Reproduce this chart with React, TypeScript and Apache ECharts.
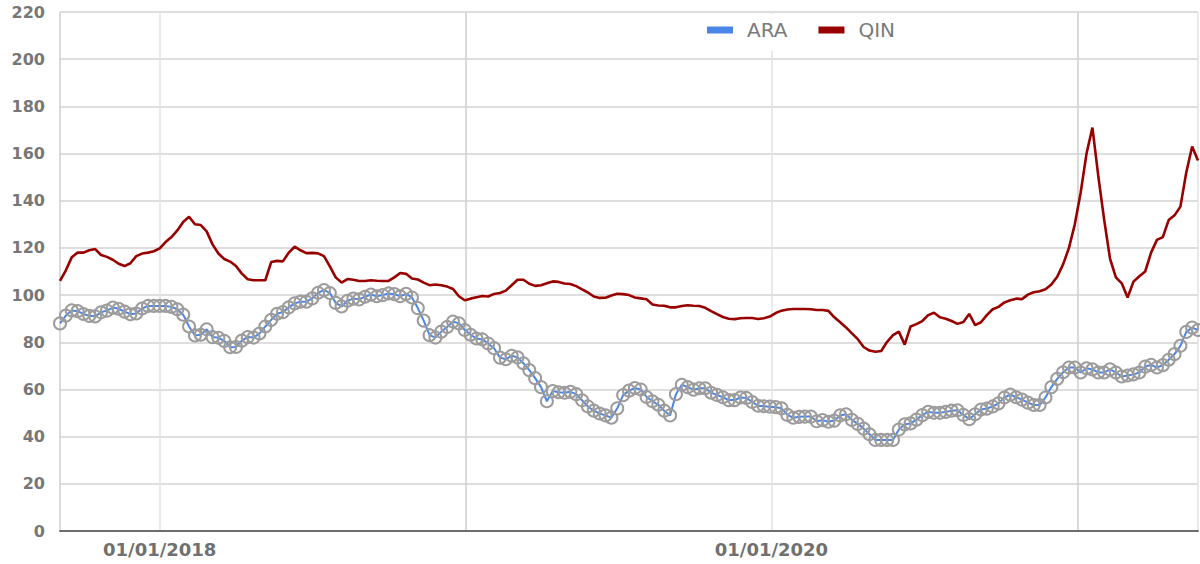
import React, { useEffect, useRef } from "react";
import * as echarts from "echarts";

// Weekly observations starting Monday 4 Sep 2017
const START_YEAR = 2017;
const START_MONTH = 8; // September (0-based)
const START_DAY = 4;
const SERIES_NAMES = ["ARA", "QIN"];
const Y_TICKS = [0, 20, 40, 60, 80, 100, 120, 140, 160, 180, 200, 220];

const ARA = [
  88, 91.3, 93.5, 93.2, 92, 91.2, 91, 92.7, 93.4, 94.7,
  94.2, 93, 91.9, 92.2, 94.3, 95.4, 95.4, 95.4, 95.4, 95,
  94, 91.7, 86.7, 82.9, 83.2, 85.5, 82.2, 81.9, 80.6, 77.9,
  78, 80.7, 82.2, 82, 83.7, 86.7, 89.5, 92.1, 92.8, 94.8,
  96.5, 97.2, 97.2, 98.6, 101, 102.1, 100.9, 96.7, 95.2, 97.6,
  98.5, 98.2, 99.3, 100.2, 99.5, 100, 100.7, 100.4, 99.5, 100.5,
  99, 94.5, 89.2, 83, 82, 84.5, 86.5, 88.8, 88, 85.2,
  83.2, 81.6, 81.2, 79.5, 77.5, 73.5, 72.8, 74.3, 73.6, 71.1,
  68.2, 64.8, 61, 55, 59.3, 58.8, 58.6, 59, 58, 55.4,
  52.8, 51, 49.8, 49, 48, 52, 57.6, 59.5, 60.6, 60,
  56.8, 55, 53.5, 51, 49, 58, 62, 61, 59.9, 60.5,
  60.5, 58.6, 57.7, 56.7, 55.5, 55.5, 56.6, 56.4, 54.7, 53.1,
  52.9, 52.7, 52.5, 52, 49.2, 48, 48.4, 48.5, 48.5, 46.5,
  47, 46.3, 46.8, 49, 49.5, 47.1, 45.4, 43.4, 41, 38.6,
  38.6, 38.6, 38.6, 43, 45.2, 45.6, 47.2, 49.1, 50.5, 50.1,
  50.1, 50.5, 51, 51.2, 49.2, 47.4, 49.5, 51.5, 51.9, 52.8,
  54.1, 56.6, 57.8, 56.7, 55.7, 54.4, 53.4, 53.4, 56.6, 61,
  64.5, 67.3, 69.3, 69.3, 67.2, 69, 68.5, 67.2, 67.2, 68.5,
  67.2, 65.5, 65.9, 66.4, 67.2, 69.7, 70.4, 69.3, 70.3, 72.6,
  75, 78.5, 84.4, 86.2, 85.2,
];

const QIN = [
  106, 110.5, 116, 118, 118, 119, 119.5, 117, 116.2, 115,
  113.3, 112.3, 113.5, 116.5, 117.6, 118, 118.6, 119.8, 122.5, 124.6,
  127.4, 131, 133.2, 130, 129.7, 127, 121.5, 117.6, 115.3, 114.2,
  112.3, 109.1, 106.7, 106.3, 106.3, 106.3, 114, 114.5, 114.3, 118,
  120.5, 119, 117.8, 117.9, 117.7, 116.5, 112.2, 107.5, 105.3, 106.8,
  106.5, 106, 106, 106.3, 106.1, 106, 106, 107.5, 109.4, 109,
  107, 106.6, 105.3, 104.2, 104.5, 104.2, 103.6, 102.6, 99.5, 97.8,
  98.5, 99.1, 99.6, 99.4, 100.5, 100.9, 101.9, 104.2, 106.5, 106.5,
  104.8, 103.9, 104.2, 105, 105.8, 105.6, 104.9, 104.7, 103.8, 102.4,
  101.1, 99.4, 98.8, 98.9, 99.8, 100.6, 100.4, 100, 99, 98.6,
  98.2, 96, 95.6, 95.5, 94.8, 94.8, 95.4, 95.7, 95.5, 95.4,
  94.6, 93.2, 91.9, 90.7, 90, 89.8, 90.2, 90.3, 90.3, 89.9,
  90.2, 90.9, 92.4, 93.4, 93.9, 94.1, 94.1, 94.1, 94, 93.7,
  93.7, 93.3, 90.6, 88.5, 86.3, 83.8, 81.3, 78, 76.5, 76,
  76.3, 80.2, 83, 84.5, 79, 86.7, 87.7, 89, 91.5, 92.5,
  90.6, 90, 89, 87.8, 88.6, 92, 87.3, 88.5, 91.5, 94,
  95, 96.9, 97.8, 98.5, 98.3, 100.2, 101.2, 101.6, 102.5, 104.5,
  107.8, 113, 120, 130, 143.5, 160, 171, 150.5, 132, 115.5,
  107.5, 105, 99, 105.7, 108, 110, 118, 123.4, 124.6, 131.8,
  133.8, 137.5, 152, 163, 157,
];

function weekDate(i: number): number {
  return new Date(START_YEAR, START_MONTH, START_DAY + 7 * i).getTime();
}

const DATES = ARA.map((_, i) => weekDate(i));

const LEGEND_ICON = "path://M0 0H26V7H0Z";

export default function App() {
  const ref = useRef<HTMLDivElement>(null);

  useEffect(() => {
    if (!ref.current) return;
    const chart = echarts.init(ref.current, undefined, { renderer: "svg" });
    const font = "'DejaVu Sans', 'Liberation Sans', Arial, sans-serif";
    chart.setOption({
      animation: false,
      backgroundColor: "#ffffff",
      grid: { left: 60, right: 2, top: 12, bottom: 33, containLabel: false },
      legend: {
        data: [
          { name: SERIES_NAMES[0], icon: LEGEND_ICON, itemStyle: { color: "#4a86e8", borderWidth: 0, opacity: 1 } },
          { name: SERIES_NAMES[1], icon: LEGEND_ICON, itemStyle: { color: "#990000", borderWidth: 0, opacity: 1 } },
        ],
        left: 697,
        top: 14,
        padding: [6, 10, 11, 10],
        backgroundColor: "#ffffff",
        icon: LEGEND_ICON,
        itemWidth: 26,
        itemHeight: 7,
        itemGap: 31,
        itemStyle: { borderWidth: 0 },
        textStyle: {
          color: "#7a7a7a",
          fontSize: 20,
          fontFamily: font,
          padding: [0, 0, 0, 9],
          width: 48,
        },
      },
      xAxis: {
        type: "time",
        min: DATES[0],
        max: DATES[DATES.length - 1],
        minInterval: 365 * 24 * 3600 * 1000,
        axisLine: { show: true, lineStyle: { color: "#6e6e6e", width: 2 } },
        axisTick: { show: false },
        splitLine: {
          show: true,
          lineStyle: { color: ["#cfcfcf", "#e3e3e3"], width: 1.5 },
        },
        axisLabel: {
          color: "#707070",
          fontSize: 18,
          fontWeight: "bold",
          fontFamily: font,
          margin: 9,
          formatter: (value: number) => {
            const d = new Date(value);
            if (d.getMonth() === 0 && d.getDate() === 1 && d.getFullYear() % 2 === 0) {
              return "01/01/" + d.getFullYear();
            }
            return "";
          },
        },
      },
      yAxis: {
        type: "value",
        min: Y_TICKS[0],
        max: Y_TICKS[Y_TICKS.length - 1],
        interval: Y_TICKS[1] - Y_TICKS[0],
        axisLine: { show: false },
        axisTick: { show: false },
        splitLine: { lineStyle: { color: "#d3d3d3", width: 1.5 } },
        axisLabel: {
          color: "#777777",
          fontSize: 16,
          fontWeight: "bold",
          fontFamily: font,
          margin: 15,
        },
      },
      series: [
        {
          name: SERIES_NAMES[0],
          type: "line",
          legendIcon: LEGEND_ICON,
          data: DATES.map((d, i) => [d, ARA[i]]),
          showSymbol: true,
          showAllSymbol: true,
          symbol: "circle",
          symbolSize: 12,
          itemStyle: {
            color: "rgba(255,255,255,0)",
            borderColor: "#9c9c9c",
            borderWidth: 2,
          },
          lineStyle: { color: "#4a86e8", width: 2 },
          z: 3,
        },
        {
          name: SERIES_NAMES[1],
          type: "line",
          legendIcon: LEGEND_ICON,
          data: DATES.map((d, i) => [d, QIN[i]]),
          showSymbol: false,
          symbol: "none",
          itemStyle: { color: "#990000" },
          lineStyle: { color: "#990000", width: 2.6 },
          z: 2,
        },
      ],
    });
    return () => chart.dispose();
  }, []);

  return (
    <div
      ref={ref}
      style={{ position: "fixed", left: 0, top: 0, width: 1200, height: 564 }}
    />
  );
}
